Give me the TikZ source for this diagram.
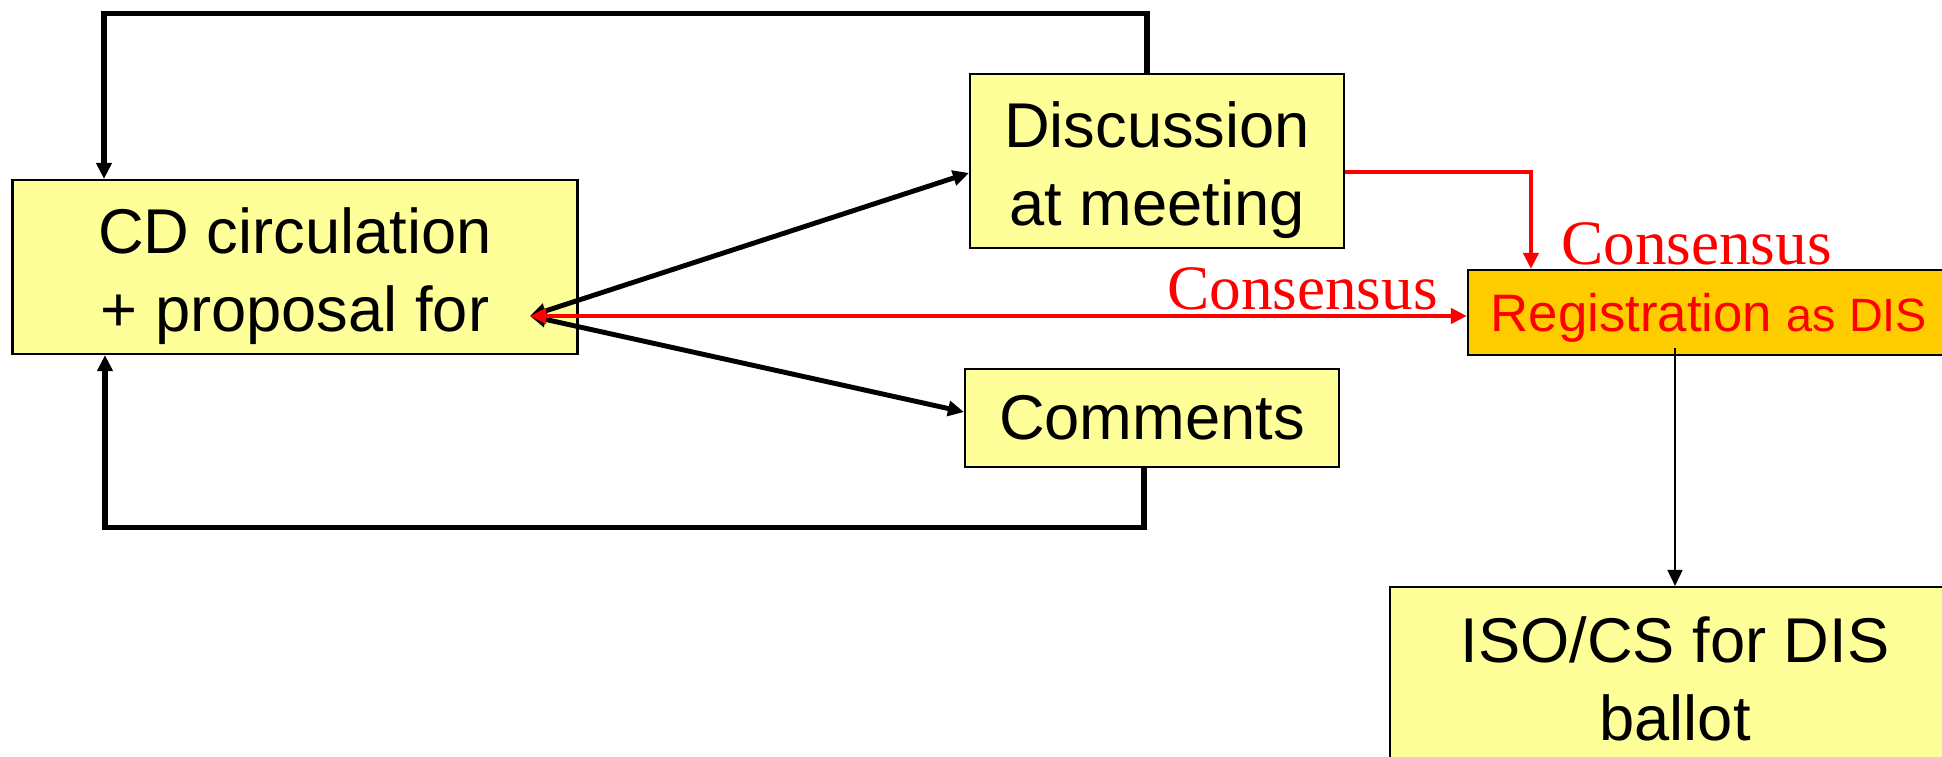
\documentclass[tikz,border=0pt]{standalone}
\usepackage{fontspec}
\setmainfont{Liberation Serif}
\setsansfont{Liberation Sans}
\usetikzlibrary{arrows.meta}
\definecolor{boxyellow}{HTML}{FFFF99}
\definecolor{boxorange}{HTML}{FFCC00}

\begin{document}
\begin{tikzpicture}
    [>={Triangle[length=1.6mm,width=1.5mm]}, every node/.style={draw, line width=0.6pt, fill=boxyellow, inner sep=0pt, align=center, font=\sffamily\fontsize{18}{22.2}\selectfont}]
  \useasboundingbox (0,0) rectangle (19.42,-7.57);

  \node[minimum width=5.65cm, minimum height=1.74cm, text height=40.5pt] (cd) at (2.95,-2.67) {CD circulation\\+ proposal for};
  \node[minimum width=3.74cm, minimum height=1.74cm, text height=40.3pt] (disc) at (11.57,-1.61) {Discussion\\at meeting};
  \node[minimum width=3.74cm, minimum height=0.98cm] (comm) at (11.52,-4.18) {Comments};
  \node[minimum width=4.82cm, minimum height=0.85cm, fill=boxorange, text=red, text height=14.3pt, text depth=3.2pt] (reg) at (17.09,-3.125) {\fontsize{15}{18}\selectfont Registration {\fontsize{13.3}{16}\selectfont as DIS}};
  \node[minimum width=5.7cm, minimum height=1.83cm] (iso) at (16.75,-6.785) {ISO/CS for DIS\\ballot};

  \node[draw=none, fill=none, text=red, anchor=base, font=\rmfamily\fontsize{18}{22}\selectfont] (cons1) at (16.965,-2.65) {Consensus};
  \node[draw=none, fill=none, text=red, anchor=base, font=\rmfamily\fontsize{18}{22}\selectfont] (cons2) at (13.025,-3.10) {Consensus};

  \coordinate (topbend) at (1.04,-0.136);
  \coordinate (botbend) at (1.05,-5.276);
  \coordinate (hub) at (5.30,-3.16);

  \draw[line width=1.45pt, ->] ([xshift=-1mm]disc.north) |- (topbend) -- (topbend |- cd.north);
  \draw[line width=1.45pt, ->] ([xshift=-0.8mm]comm.south) |- (botbend) -- (botbend |- cd.south);

  \foreach \to/\dy in {disc/-1.2mm, comm/0.6mm}
    \draw[line width=1.4pt, <->] (hub) -- ([yshift=\dy]\to.west);

  \draw[red, line width=1.2pt, <->] (hub) -- (hub -| reg.west);
  \draw[red, line width=1.15pt, ->] ([yshift=-1.1mm]disc.east) -| ([xshift=6.4mm]reg.north west);
  \draw[line width=0.45pt, ->] ([yshift=0.08cm]iso.north |- reg.south) -- (iso.north);
\end{tikzpicture}
\end{document}
